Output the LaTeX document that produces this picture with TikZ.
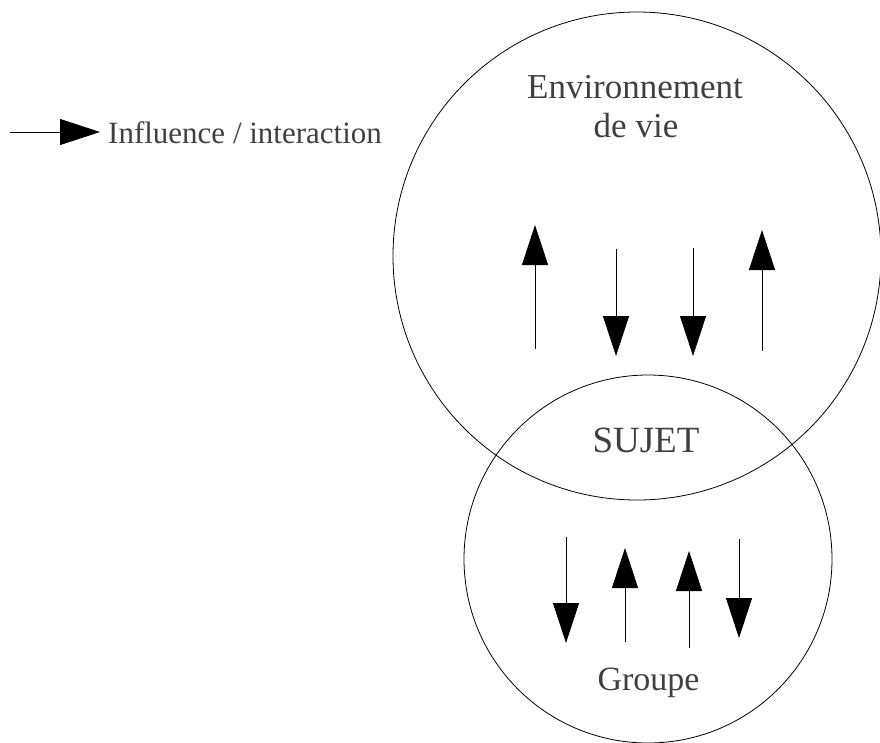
\documentclass[tikz,border=0pt]{standalone}
\usepackage{fontspec}
\setmainfont{Liberation Serif}
\usetikzlibrary{arrows.meta}
\definecolor{txt}{HTML}{404040}
\tikzset{
  infl/.style={draw=black, line width=0.8pt, -{Triangle[length=40pt,width=26pt]}},
  ring/.style={circle, draw=black, line width=0.8pt, inner sep=0pt},
  lbl/.style={anchor=base, inner sep=0pt, text=txt},
}
\begin{document}
\begin{tikzpicture}[x=1pt,y=-1pt]
\useasboundingbox (0,0) rectangle (880,742);
% circles
\node[ring, minimum size=488pt] (env) at (637,256) {};
\node[ring, minimum size=368pt] (grp) at (648,559) {};
% labels
\node[lbl, font=\fontsize{35}{42}\selectfont] (t1) at (635,98) {Environnement};
\node[lbl, font=\fontsize{35}{42}\selectfont] (t2) at (636,137) {de vie};
\node[lbl, font=\fontsize{37}{44}\selectfont] (t3) at (646,452) {SUJET};
\node[lbl, font=\fontsize{34}{40}\selectfont] (t4) at (648.5,690) {Groupe};
\node[lbl, anchor=base west, font=\fontsize{31}{37}\selectfont] (t5) at (108,143) {Influence / interaction};
% legend arrow
\coordinate (l0) at (10,132);
\coordinate (l1) at (100,132);
\draw[infl] (l0) -- (l1);
% environment arrows
\coordinate (e1a) at (535,349); \coordinate (e1b) at (535,225);
\coordinate (e2a) at (616,249); \coordinate (e2b) at (616,356);
\coordinate (e3a) at (693,248); \coordinate (e3b) at (693,356);
\coordinate (e4a) at (762,351); \coordinate (e4b) at (762,230);
\draw[infl] (e1a) -- (e1b);
\draw[infl] (e2a) -- (e2b);
\draw[infl] (e3a) -- (e3b);
\draw[infl] (e4a) -- (e4b);
% group arrows
\coordinate (g1a) at (566,537); \coordinate (g1b) at (566,643);
\coordinate (g2a) at (625,642); \coordinate (g2b) at (625,548);
\coordinate (g3a) at (689,648); \coordinate (g3b) at (689,551);
\coordinate (g4a) at (739,539); \coordinate (g4b) at (739,638);
\draw[infl] (g1a) -- (g1b);
\draw[infl] (g2a) -- (g2b);
\draw[infl] (g3a) -- (g3b);
\draw[infl] (g4a) -- (g4b);
\end{tikzpicture}
\end{document}
